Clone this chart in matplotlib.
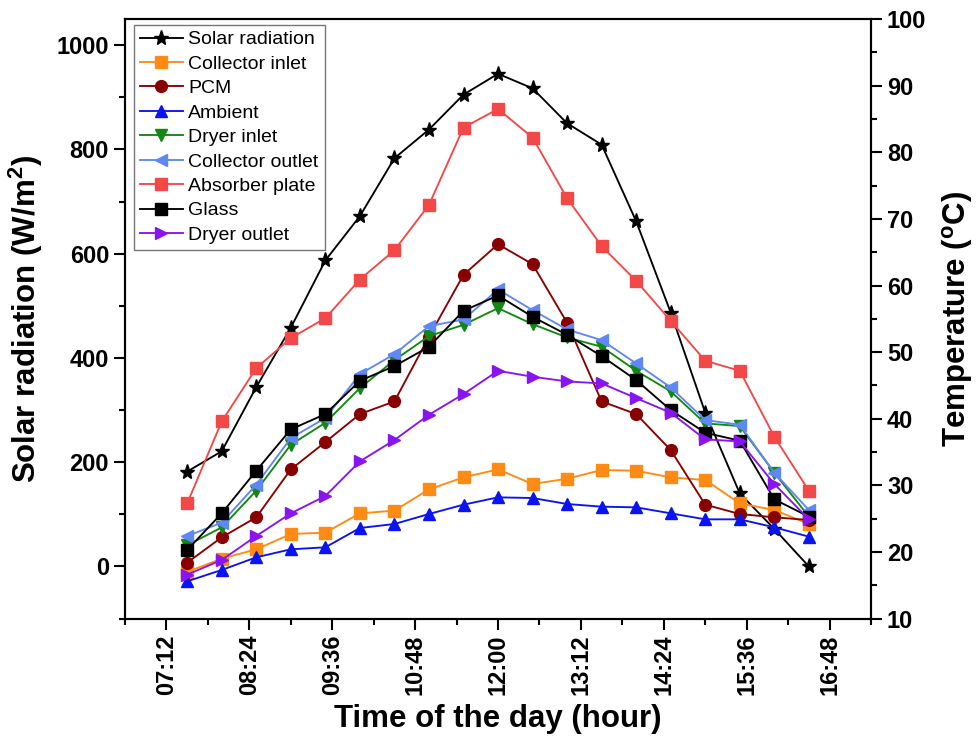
import numpy as np
import matplotlib
matplotlib.use('Agg')
import matplotlib.pyplot as plt
import matplotlib.ticker as ticker

plt.rcParams['font.family'] = ['Liberation Sans', 'DejaVu Sans']
plt.rcParams['mathtext.fontset'] = 'custom'
plt.rcParams['mathtext.rm'] = 'Liberation Sans:bold'
plt.rcParams['mathtext.default'] = 'rm'

# half-hourly readings, 07:30 -> 16:30
times = ['07:30', '08:00', '08:30', '09:00', '09:30', '10:00', '10:30', '11:00', '11:30', '12:00',
         '12:30', '13:00', '13:30', '14:00', '14:30', '15:00', '15:30', '16:00', '16:30']

solar = [182, 221, 344, 458, 587, 672, 783, 838, 905, 945, 917, 850, 809, 662, 487, 295, 140, 72, 0]

collector_inlet = [17.0, 19.0, 20.4, 22.7, 22.9, 25.8, 26.2, 29.4, 31.2, 32.4,
                   30.2, 31.0, 32.3, 32.2, 31.2, 30.8, 27.3, 26.3, 24.2]
pcm = [18.4, 22.2, 25.2, 32.4, 36.5, 40.7, 42.6, 52.3, 61.6, 66.2,
       63.2, 54.4, 42.6, 40.7, 35.3, 27.1, 25.7, 25.2, 24.8]
ambient = [15.6, 17.3, 19.2, 20.4, 20.7, 23.6, 24.2, 25.7, 27.1, 28.2,
           28.1, 27.2, 26.8, 26.7, 25.8, 24.9, 24.9, 23.7, 22.3]
dryer_inlet = [21.0, 23.7, 29.2, 36.1, 39.4, 44.6, 48.8, 52.4, 54.1, 56.6,
               54.2, 52.2, 50.8, 47.2, 44.1, 39.3, 38.9, 31.9, 25.3]
collector_outlet = [22.4, 24.4, 30.1, 37.1, 40.1, 46.7, 49.7, 53.9, 54.9, 59.4,
                    56.3, 53.4, 51.8, 48.3, 44.7, 39.8, 39.1, 31.9, 26.3]
absorber = [27.3, 39.6, 47.6, 52.1, 55.1, 60.9, 65.3, 72.1, 83.7, 86.5,
            82.2, 73.1, 65.9, 60.7, 54.7, 48.7, 47.2, 37.3, 29.2]
glass = [20.3, 25.8, 32.2, 38.4, 40.7, 45.7, 47.9, 50.8, 56.2, 58.5,
         55.3, 52.6, 49.4, 45.8, 41.3, 37.9, 36.7, 27.9, 25.3]
dryer_outlet = [16.6, 18.8, 22.4, 25.8, 28.4, 33.6, 36.8, 40.6, 43.7, 47.2,
                46.3, 45.6, 45.3, 43.1, 40.9, 36.9, 36.6, 30.2, 24.9]


def to_minutes(t):
    h, m = t.split(':')
    return int(h) * 60 + int(m)


def fmt_hhmm(x, pos):
    x = int(round(x))
    return '%02d:%02d' % (x // 60, x % 60)


x = np.array([to_minutes(t) for t in times])

fig = plt.figure(figsize=(9.8, 7.52), dpi=100)
ax = fig.add_axes([0.1276, 0.1774, 0.7612, 0.7973])
ax2 = ax.twinx()

lw = 1.35
ax.plot(x, solar, color='black', marker='*', ms=11, lw=lw, label='Solar radiation')

series = [
    (collector_inlet, 'Collector inlet', '#FF8A14', 's', 8),
    (pcm, 'PCM', '#880000', 'o', 8.5),
    (ambient, 'Ambient', '#0A14F0', '^', 9),
    (dryer_inlet, 'Dryer inlet', '#118811', 'v', 9),
    (collector_outlet, 'Collector outlet', '#5F88F5', '<', 9),
    (absorber, 'Absorber plate', '#F24848', 's', 8),
    (glass, 'Glass', 'black', 's', 8),
    (dryer_outlet, 'Dryer outlet', '#8A14F0', '>', 9),
]
for vals, name, col, mk, ms in series:
    ax2.plot(x, vals, color=col, marker=mk, ms=ms, lw=lw, label=name)

ax.set_xlim(to_minutes('06:36'), to_minutes('17:24'))
ax.set_ylim(-100, 1050)
ax2.set_ylim(10, 100)

ax.xaxis.set_major_locator(ticker.MultipleLocator(72))
ax.xaxis.set_minor_locator(ticker.MultipleLocator(36))
ax.xaxis.set_major_formatter(ticker.FuncFormatter(fmt_hhmm))
ax.yaxis.set_major_locator(ticker.FixedLocator([0, 200, 400, 600, 800, 1000]))
ax.yaxis.set_minor_locator(ticker.FixedLocator([-100, 100, 300, 500, 700, 900]))
ax2.yaxis.set_major_locator(ticker.MultipleLocator(10))
ax2.yaxis.set_minor_locator(ticker.MultipleLocator(5))

for a in (ax, ax2):
    a.tick_params(which='major', direction='out', length=8, width=1.5, labelsize=17)
    a.tick_params(which='minor', direction='out', length=4.5, width=1.5)
    for s in a.spines.values():
        s.set_linewidth(1.5)
    for lab in a.get_xticklabels() + a.get_yticklabels():
        lab.set_fontweight('bold')
ax.tick_params(axis='x', which='both', top=False)
ax.tick_params(axis='x', labelrotation=90)

ax.set_xlabel('Time of the day (hour)', fontsize=22.5, fontweight='bold', labelpad=6)
ax.set_ylabel('Solar radiation (W/m$^{2}$)', fontsize=22.5, fontweight='bold', labelpad=8)
ax2.set_ylabel('Temperature ($^{o}$C)', fontsize=22.5, fontweight='bold', labelpad=10)

h1, l1 = ax.get_legend_handles_labels()
h2, l2 = ax2.get_legend_handles_labels()
leg = ax2.legend(h1 + h2, l1 + l2, loc='upper left', bbox_to_anchor=(0.012, 0.99),
                 borderaxespad=0, fontsize=14, handlelength=2.2, handletextpad=0.3,
                 labelspacing=0.35, borderpad=0.3, fancybox=False, framealpha=1,
                 edgecolor='#777777')
leg.get_frame().set_linewidth(1.0)

fig.savefig('out.png', dpi=100)
